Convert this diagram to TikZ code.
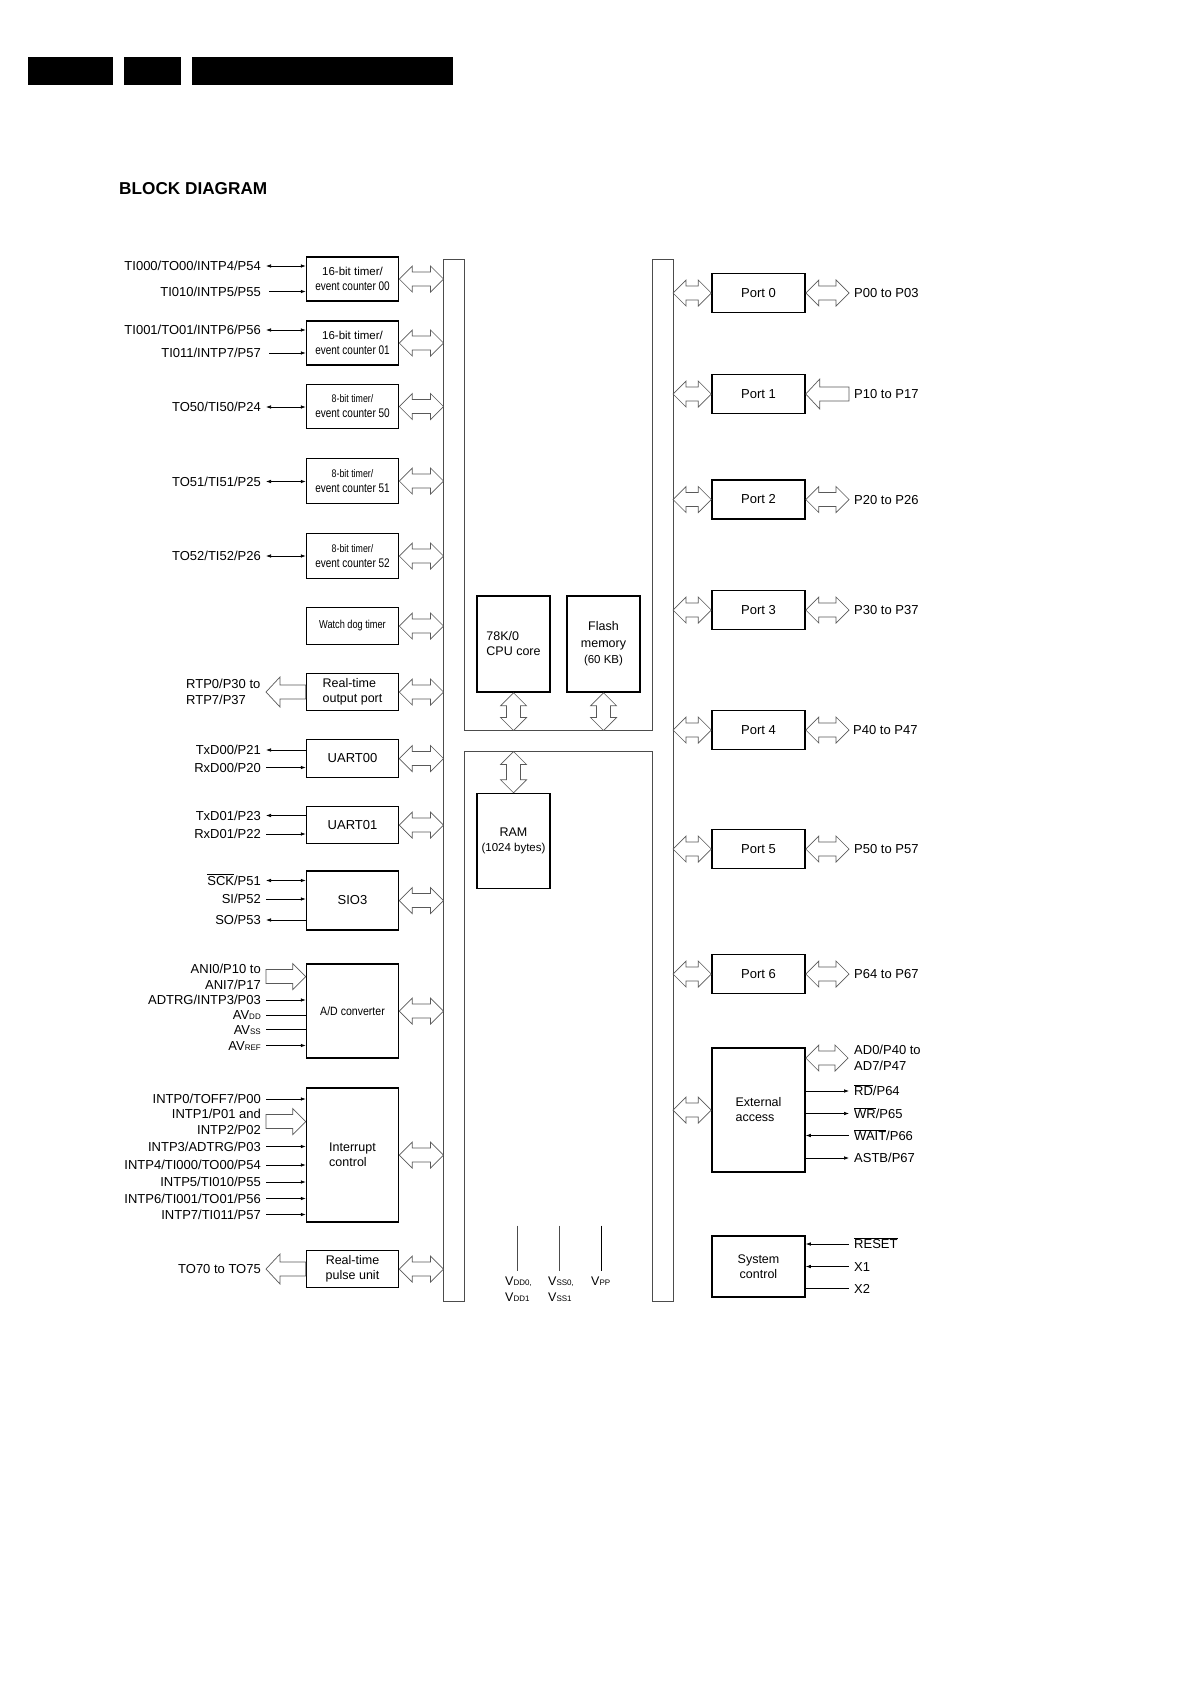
\documentclass[tikz,border=0pt]{standalone}
\usepackage{fontspec}
\usepackage{graphicx}
\setmainfont{Liberation Sans}
\usetikzlibrary{arrows.meta,calc}

% horizontal hollow double arrow, #1 left tip, #2 right tip
\newcommand\hdarr[2]{\draw[hol] let \p1=(#1), \p2=(#2) in
 (\x1,\y1) -- (\x1+13pt,\y1+13pt) -- (\x1+13pt,\y1+7pt) -- (\x2-13pt,\y1+7pt) -- (\x2-13pt,\y1+13pt)
 -- (\x2,\y1) -- (\x2-13pt,\y1-13pt) -- (\x2-13pt,\y1-7pt) -- (\x1+13pt,\y1-7pt) -- (\x1+13pt,\y1-13pt) -- cycle;}
% vertical hollow double arrow, #1 top tip, #2 bottom tip
\newcommand\vdarr[2]{\draw[hol] let \p1=(#1), \p2=(#2) in
 (\x1,\y1) -- (\x1+13pt,\y1-13pt) -- (\x1+7pt,\y1-13pt) -- (\x1+7pt,\y2+13pt) -- (\x1+13pt,\y2+13pt)
 -- (\x1,\y2) -- (\x1-13pt,\y2+13pt) -- (\x1-7pt,\y2+13pt) -- (\x1-7pt,\y1-13pt) -- (\x1-13pt,\y1-13pt) -- cycle;}
% single hollow arrow pointing right: #1 tail, #2 tip
\newcommand\harrR[2]{\draw[hol] let \p1=(#1), \p2=(#2) in
 (\x1,\y1+7pt) -- (\x2-13pt,\y1+7pt) -- (\x2-13pt,\y1+13pt) -- (\x2,\y1) -- (\x2-13pt,\y1-13pt) -- (\x2-13pt,\y1-7pt) -- (\x1,\y1-7pt) -- cycle;}
% single hollow arrow pointing left: #1 tail, #2 tip
\newcommand\harrL[2]{\draw[hol] let \p1=(#1), \p2=(#2) in
 (\x1,\y1+7pt) -- (\x2+14pt,\y1+7pt) -- (\x2+14pt,\y1+15pt) -- (\x2,\y1) -- (\x2+14pt,\y1-15pt) -- (\x2+14pt,\y1-7pt) -- (\x1,\y1-7pt) -- cycle;}

\newcommand\smf{\fontsize{8}{9}\selectfont}
\newcommand\cnd[1]{\scalebox{0.8}[1]{#1}}

\tikzset{
 box/.style={draw, line width=1.5pt, inner sep=0pt, align=center, font=\fontsize{12.5}{15}\selectfont},
 lbl/.style={inner sep=0pt, font=\fontsize{13}{15}\selectfont, text height=9.3pt, text depth=0pt},
 sig/.style={line width=0.7pt},
 hol/.style={draw=black!65, line width=0.7pt},
 busline/.style={draw=black!70, line width=0.8pt},
 pwr/.style={inner sep=0pt, align=left, font=\fontsize{12.5}{16}\selectfont},
}

\begin{document}
\begin{tikzpicture}[x=1pt,y=-1pt,>={Latex[length=5pt,width=3.6pt]}]
\useasboundingbox (0,0) rectangle (1190,1684);

% header bars
\fill (28,57) rectangle (113,85);
\fill (124,57) rectangle (181,85);
\fill (192,57) rectangle (453,85);
\node[anchor=base west, inner sep=0pt, font=\bfseries\fontsize{17.2}{20}\selectfont] (title) at (119,194) {BLOCK DIAGRAM};

% bus
\coordinate (busL) at (443.5,0);
\coordinate (busR) at (673,0);
\coordinate (bandT) at (0,730.5);
\coordinate (bandB) at (0,751.5);
\draw[busline] (443.5,259) -- (464,259) -- (464,730.5) -- (652.5,730.5) -- (652.5,259) -- (673,259)
 -- (673,1301) -- (652.5,1301) -- (652.5,751.5) -- (464,751.5) -- (464,1301) -- (443.5,1301) -- cycle;

% left blocks
\node[box, minimum width=92, minimum height=44] (t00) at (352.5,279) {\fontsize{11.5}{15}\selectfont 16-bit timer/\\\cnd{event counter 00}};
\node[box, minimum width=92, minimum height=44] (t01) at (352.5,343) {\fontsize{11.5}{15}\selectfont 16-bit timer/\\\cnd{event counter 01}};
\node[box, minimum width=92, minimum height=44] (t50) at (352.5,406.5) {\fontsize{11}{15}\selectfont \cnd{8-bit timer/}\\\cnd{event counter 50}};
\node[box, minimum width=92, minimum height=45] (t51) at (352.5,481) {\fontsize{11}{15}\selectfont \cnd{8-bit timer/}\\\cnd{event counter 51}};
\node[box, minimum width=92, minimum height=45] (t52) at (352.5,556) {\fontsize{11}{15}\selectfont \cnd{8-bit timer/}\\\cnd{event counter 52}};
\node[box, minimum width=92, minimum height=37] (wdt) at (352.5,626) {\fontsize{11.5}{15}\selectfont \cnd{Watch dog timer}};
\node[box, minimum width=92, minimum height=37, align=left] (rto) at (352.5,692) {Real-time\\output port};
\node[box, minimum width=92, minimum height=38, font=\fontsize{13}{15}\selectfont] (u0) at (352.5,758.5) {UART00};
\node[box, minimum width=92, minimum height=37, font=\fontsize{13}{15}\selectfont] (u1) at (352.5,825) {UART01};
\node[box, minimum width=92, minimum height=59, font=\fontsize{13}{15}\selectfont] (sio) at (352.5,900.5) {SIO3};
\node[box, minimum width=92, minimum height=94] (adc) at (352.5,1011) {\fontsize{12}{15}\selectfont\scalebox{0.88}[1]{A/D converter}};
\node[box, minimum width=92, minimum height=134, align=left] (intc) at (352.5,1155) {Interrupt\\control};
\node[box, minimum width=92, minimum height=37] (rtpu) at (352.5,1269) {Real-time\\pulse unit};

% centre blocks
\node[box, minimum width=73, minimum height=96, align=left] (cpu) at (513.5,644) {78K/0\\CPU core};
\node[box, minimum width=73, minimum height=96, font=\fontsize{12.5}{16.5}\selectfont] (fl) at (603.5,644) {Flash\\memory\\{\fontsize{11.5}{16}\selectfont(60 KB)}};
\node[box, minimum width=73, minimum height=95] (ram) at (513.5,841) {RAM\\{\fontsize{11.5}{15}\selectfont(1024 bytes)}};

% right blocks
\node[box, minimum width=93, minimum height=39, font=\fontsize{13}{15}\selectfont] (p0) at (758.5,293) {Port 0};
\node[box, minimum width=93, minimum height=39, font=\fontsize{13}{15}\selectfont] (p1) at (758.5,394) {Port 1};
\node[box, minimum width=93, minimum height=39, font=\fontsize{13}{15}\selectfont] (p2) at (758.5,499.5) {Port 2};
\node[box, minimum width=93, minimum height=39, font=\fontsize{13}{15}\selectfont] (p3) at (758.5,610) {Port 3};
\node[box, minimum width=93, minimum height=39, font=\fontsize{13}{15}\selectfont] (p4) at (758.5,730) {Port 4};
\node[box, minimum width=93, minimum height=39, font=\fontsize{13}{15}\selectfont] (p5) at (758.5,849) {Port 5};
\node[box, minimum width=93, minimum height=39, font=\fontsize{13}{15}\selectfont] (p6) at (758.5,974) {Port 6};
\node[box, minimum width=93, minimum height=124, align=left] (ext) at (758.5,1110) {External\\access};
\node[box, minimum width=93, minimum height=61] (sys) at (758.5,1266.5) {System\\control};

% left labels
\node[lbl,anchor=east] (a1) at (261,266) {TI000/TO00/INTP4/P54};
\node[lbl,anchor=east] (a2) at (261,291.5) {TI010/INTP5/P55};
\node[lbl,anchor=east] (a3) at (261,330) {TI001/TO01/INTP6/P56};
\node[lbl,anchor=east] (a4) at (261,353) {TI011/INTP7/P57};
\node[lbl,anchor=east] (a5) at (261,407) {TO50/TI50/P24};
\node[lbl,anchor=east] (a6) at (261,481.5) {TO51/TI51/P25};
\node[lbl,anchor=east] (a7) at (261,556) {TO52/TI52/P26};
\node[lbl,anchor=west] (a8) at (186,684) {RTP0/P30 to};
\node[lbl,anchor=west] (a9) at (186,700) {RTP7/P37};
\node[lbl,anchor=east] (a10) at (261,750) {TxD00/P21};
\node[lbl,anchor=east] (a11) at (261,767.5) {RxD00/P20};
\node[lbl,anchor=east] (a12) at (261,815.5) {TxD01/P23};
\node[lbl,anchor=east] (a13) at (261,834) {RxD01/P22};
\node[lbl,anchor=east] (a14) at (261,880.5) {$\overline{\mbox{SCK}}$/P51};
\node[lbl,anchor=east] (a15) at (261,899) {SI/P52};
\node[lbl,anchor=east] (a16) at (261,920) {SO/P53};
\node[lbl,anchor=east] (a17) at (261,969) {ANI0/P10 to};
\node[lbl,anchor=east] (a18) at (261,985) {ANI7/P17};
\node[lbl,anchor=east] (a19) at (261,1000) {ADTRG/INTP3/P03};
\node[lbl,anchor=east] (a20) at (261,1015) {AV{\smf DD}};
\node[lbl,anchor=east] (a21) at (261,1029.5) {AV{\smf SS}};
\node[lbl,anchor=east] (a22) at (261,1045.5) {AV{\smf REF}};
\node[lbl,anchor=east] (a23) at (261,1099) {INTP0/TOFF7/P00};
\node[lbl,anchor=east] (a24) at (261,1113.5) {INTP1/P01 and};
\node[lbl,anchor=east] (a25) at (261,1129.5) {INTP2/P02};
\node[lbl,anchor=east] (a26) at (261,1146.5) {INTP3/ADTRG/P03};
\node[lbl,anchor=east] (a27) at (261,1165) {INTP4/TI000/TO00/P54};
\node[lbl,anchor=east] (a28) at (261,1182) {INTP5/TI010/P55};
\node[lbl,anchor=east] (a29) at (261,1198.5) {INTP6/TI001/TO01/P56};
\node[lbl,anchor=east] (a30) at (261,1214.5) {INTP7/TI011/P57};
\node[lbl,anchor=east] (a31) at (261,1269) {TO70 to TO75};

% left signals
\draw[sig,<->] ([xshift=5pt]a1.east) -- (a1.east -| t00.west);
\draw[sig,->] ([xshift=8pt]a2.east) -- (a2.east -| t00.west);
\draw[sig,<->] ([xshift=5pt]a3.east) -- (a3.east -| t01.west);
\draw[sig,->] ([xshift=8pt]a4.east) -- (a4.east -| t01.west);
\draw[sig,<->] ([xshift=5pt]a5.east) -- (a5.east -| t50.west);
\draw[sig,<->] ([xshift=5pt]a6.east) -- (a6.east -| t51.west);
\draw[sig,<->] ([xshift=5pt]a7.east) -- (a7.east -| t52.west);
\draw[sig,<-] ([xshift=5pt]a10.east) -- (a10.east -| u0.west);
\draw[sig,->] ([xshift=5pt]a11.east) -- (a11.east -| u0.west);
\draw[sig,<-] ([xshift=5pt]a12.east) -- (a12.east -| u1.west);
\draw[sig,->] ([xshift=5pt]a13.east) -- (a13.east -| u1.west);
\draw[sig,<->] ([xshift=5pt]a14.east) -- (a14.east -| sio.west);
\draw[sig,->] ([xshift=5pt]a15.east) -- (a15.east -| sio.west);
\draw[sig,<-] ([xshift=5pt]a16.east) -- (a16.east -| sio.west);
\draw[sig,->] ([xshift=5pt]a19.east) -- (a19.east -| adc.west);
\draw[sig] ([xshift=5pt]a20.east) -- (a20.east -| adc.west);
\draw[sig] ([xshift=5pt]a21.east) -- (a21.east -| adc.west);
\draw[sig,->] ([xshift=5pt]a22.east) -- (a22.east -| adc.west);
\draw[sig,->] ([xshift=5pt]a23.east) -- (a23.east -| intc.west);
\draw[sig,->] ([xshift=5pt]a26.east) -- (a26.east -| intc.west);
\draw[sig,->] ([xshift=5pt]a27.east) -- (a27.east -| intc.west);
\draw[sig,->] ([xshift=5pt]a28.east) -- (a28.east -| intc.west);
\draw[sig,->] ([xshift=5pt]a29.east) -- (a29.east -| intc.west);
\draw[sig,->] ([xshift=5pt]a30.east) -- (a30.east -| intc.west);

% left hollow arrows
\coordinate (rtotip) at (266,692);
\coordinate (anitail) at (266,976.5);
\coordinate (inttail) at (266,1121.5);
\harrL{rto.west}{rtotip};
\harrR{anitail}{anitail -| adc.west};
\harrR{inttail}{inttail -| intc.west};
\harrL{rtpu.west}{[xshift=5pt]a31.east};

% left bus arrows
\hdarr{t00.east}{t00.east -| busL}
\hdarr{t01.east}{t01.east -| busL}
\hdarr{t50.east}{t50.east -| busL}
\hdarr{t51.east}{t51.east -| busL}
\hdarr{t52.east}{t52.east -| busL}
\hdarr{wdt.east}{wdt.east -| busL}
\hdarr{rto.east}{rto.east -| busL}
\hdarr{u0.east}{u0.east -| busL}
\hdarr{u1.east}{u1.east -| busL}
\hdarr{sio.east}{sio.east -| busL}
\hdarr{adc.east}{adc.east -| busL}
\hdarr{intc.east}{intc.east -| busL}
\hdarr{rtpu.east}{rtpu.east -| busL}

% centre arrows
\vdarr{cpu.south}{cpu.south |- bandT}
\vdarr{fl.south}{fl.south |- bandT}
\vdarr{ram.north |- bandB}{ram.north}

% power pins
\node[pwr, anchor=north west] (vdd) at (505,1276.5) {V{\smf DD0,}\\V{\smf DD1}};
\node[pwr, anchor=north west] (vss) at (548,1276.5) {V{\smf SS0,}\\V{\smf SS1}};
\node[pwr, anchor=north west] (vpp) at (591,1276.5) {V{\smf PP}};
\coordinate (pw1) at (517.7,1225.5);
\coordinate (pw2) at (559.5,1225.5);
\coordinate (pw3) at (601.4,1225.5);
\draw[line width=0.6pt, black!70] (pw1) -- (pw1 |- 0,1270.5);
\draw[line width=0.6pt, black!70] (pw2) -- (pw2 |- 0,1270.5);
\draw[line width=0.8pt] (pw3) -- (pw3 |- 0,1270.5);

% right labels
\node[lbl,anchor=west] (b0) at (854,293) {P00 to P03};
\node[lbl,anchor=west] (b1) at (854,394) {P10 to P17};
\node[lbl,anchor=west] (b2) at (854,499.5) {P20 to P26};
\node[lbl,anchor=west] (b3) at (854,610) {P30 to P37};
\node[lbl,anchor=west] (b4) at (853,730) {P40 to P47};
\node[lbl,anchor=west] (b5) at (854,849) {P50 to P57};
\node[lbl,anchor=west] (b6) at (854,974) {P64 to P67};
\node[lbl,anchor=west] (c0) at (854,1050) {AD0/P40 to};
\node[lbl,anchor=west] (c1) at (854,1066) {AD7/P47};
\node[lbl,anchor=west] (c2) at (854,1091) {$\overline{\mbox{RD}}$/P64};
\node[lbl,anchor=west] (c3) at (854,1113.5) {$\overline{\mbox{WR}}$/P65};
\node[lbl,anchor=west] (c4) at (854,1135.5) {$\overline{\mbox{WAIT}}$/P66};
\node[lbl,anchor=west] (c5) at (854,1158) {ASTB/P67};
\node[lbl,anchor=west] (d0) at (854,1244) {$\overline{\mbox{RESET}}$};
\node[lbl,anchor=west] (d1) at (854,1266.5) {X1};
\node[lbl,anchor=west] (d2) at (854,1288.5) {X2};

% right bus arrows
\hdarr{p0.west -| busR}{p0.west}
\hdarr{p1.west -| busR}{p1.west}
\hdarr{p2.west -| busR}{p2.west}
\hdarr{p3.west -| busR}{p3.west}
\hdarr{p4.west -| busR}{p4.west}
\hdarr{p5.west -| busR}{p5.west}
\hdarr{p6.west -| busR}{p6.west}
\hdarr{ext.west -| busR}{ext.west}

% port pins
\hdarr{p0.east}{[xshift=-5pt]b0.west}
\harrL{[xshift=-5pt]b1.west}{p1.east}
\hdarr{p2.east}{[xshift=-5pt]b2.west}
\hdarr{p3.east}{[xshift=-5pt]b3.west}
\hdarr{p4.east}{[xshift=-4pt]b4.west}
\hdarr{p5.east}{[xshift=-5pt]b5.west}
\hdarr{p6.east}{[xshift=-5pt]b6.west}
\coordinate (adtip) at (848,1058);
\hdarr{adtip -| ext.east}{adtip}

% external access / system control signals
\draw[sig,->] (ext.east |- c2.west) -- ([xshift=-5pt]c2.west);
\draw[sig,->] (ext.east |- c3.west) -- ([xshift=-5pt]c3.west);
\draw[sig,<-] (ext.east |- c4.west) -- ([xshift=-5pt]c4.west);
\draw[sig,->] (ext.east |- c5.west) -- ([xshift=-5pt]c5.west);
\draw[sig,<-] (sys.east |- d0.west) -- ([xshift=-5pt]d0.west);
\draw[sig,<-] (sys.east |- d1.west) -- ([xshift=-5pt]d1.west);
\draw[sig] (sys.east |- d2.west) -- ([xshift=-5pt]d2.west);

\end{tikzpicture}
\end{document}
